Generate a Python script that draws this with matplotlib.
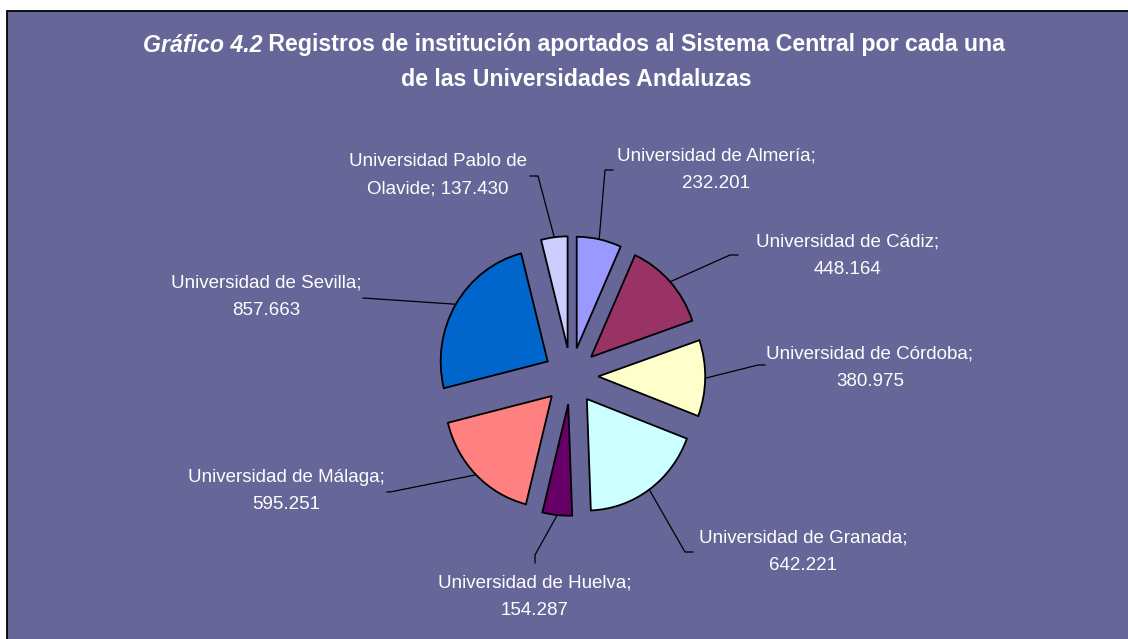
import numpy as np
import matplotlib
matplotlib.use("Agg")
import matplotlib.pyplot as plt
from matplotlib.patches import Rectangle

plt.rcParams['font.family'] = ['Liberation Sans', 'DejaVu Sans']

# Datos (orden horario desde las 12)
universidades = ["Universidad de Almería", "Universidad de Cádiz", "Universidad de Córdoba",
                 "Universidad de Granada", "Universidad de Huelva", "Universidad de Málaga",
                 "Universidad de Sevilla", "Universidad Pablo de\nOlavide"]
registros = [232201, 448164, 380975, 642221, 154287, 595251, 857663, 137430]
colores = ["#9999FF", "#993366", "#FFFFCC", "#CCFFFF", "#660066", "#FF8080", "#0066CC", "#CCCCFF"]

# Posiciones de etiquetas (pixeles): centro del texto y codo de la linea guia
pos_texto = [(716, 170), (847, 256), (870, 368), (803, 552), (535, 597), (286, 491), (266, 297), (438, 175)]
codos = [[(605, 170), (613, 170)], [(730, 255), (738, 255)], [(758, 365), (765, 365)],
         [(685, 552), (693, 552)], [(535, 555), (535, 563)], [(390, 492), (387, 492)],
         [(363, 298)], [(538, 176), (530, 176)]]

W, H = 1128, 639
CX, CY = 571, 376
SX, SY = 107, 111.5  # pixeles por unidad de radio (la tarta original esta algo achatada)


def px(x, y):
    return (x - CX) / SX, (CY - y) / SY


fig = plt.figure(figsize=(W / 100, H / 100), dpi=100)
fig.patch.set_facecolor('white')
fig.patches.append(Rectangle((6.5 / W, -0.05), 1.1, (H - 11) / H + 0.05, transform=fig.transFigure,
                             facecolor='#666699', edgecolor='black', linewidth=1.3, zorder=-5))

ax = fig.add_axes([0, 0, 1, 1])
ax.set_axis_off()
ax.patch.set_alpha(0)

wedges, _ = ax.pie(registros, colors=colores, startangle=90, counterclock=False,
                   explode=[0.254] * len(registros), radius=1,
                   wedgeprops=dict(edgecolor='black', linewidth=1.3))
ax.set_aspect('auto')
ax.set_xlim(-CX / SX, (W - CX) / SX)
ax.set_ylim((CY - H) / SY, CY / SY)

for w, nombre, valor, tp, cd in zip(wedges, universidades, registros, pos_texto, codos):
    ang = np.deg2rad((w.theta1 + w.theta2) / 2)
    x0 = w.center[0] + w.r * np.cos(ang)
    y0 = w.center[1] + w.r * np.sin(ang)
    pts = [(x0, y0)] + [px(*p) for p in cd]
    ax.plot([p[0] for p in pts], [p[1] for p in pts], color='black', lw=0.9, zorder=3)
    v = f"{valor:,}".replace(',', '.')
    if '\n' in nombre:
        txt = f"{nombre}; {v}"
    else:
        txt = f"{nombre};\n{v}"
    ax.text(*px(*tp), txt, ha='center', va='center', color='white', fontsize=13.5,
            linespacing=1.82)

# Titulo
fs_t = 16.7
renderer = fig.canvas.get_renderer()
t1 = fig.text(0, 1 - 45 / H, "Gráfico 4.2", fontsize=fs_t, fontweight='bold', fontstyle='italic',
              color='white', va='center', ha='left')
t2 = fig.text(0, 1 - 45 / H, " Registros de institución aportados al Sistema Central por cada una",
              fontsize=fs_t, fontweight='bold', color='white', va='center', ha='left')
w1 = t1.get_window_extent(renderer).width
w2 = t2.get_window_extent(renderer).width
x_ini = 574 - (w1 + w2) / 2
t1.set_x(x_ini / W)
t2.set_x((x_ini + w1) / W)
fig.text(576 / W, 1 - 80 / H, "de las Universidades Andaluzas", fontsize=fs_t, fontweight='bold',
         color='white', va='center', ha='center')

fig.savefig("out.png", dpi=100)
